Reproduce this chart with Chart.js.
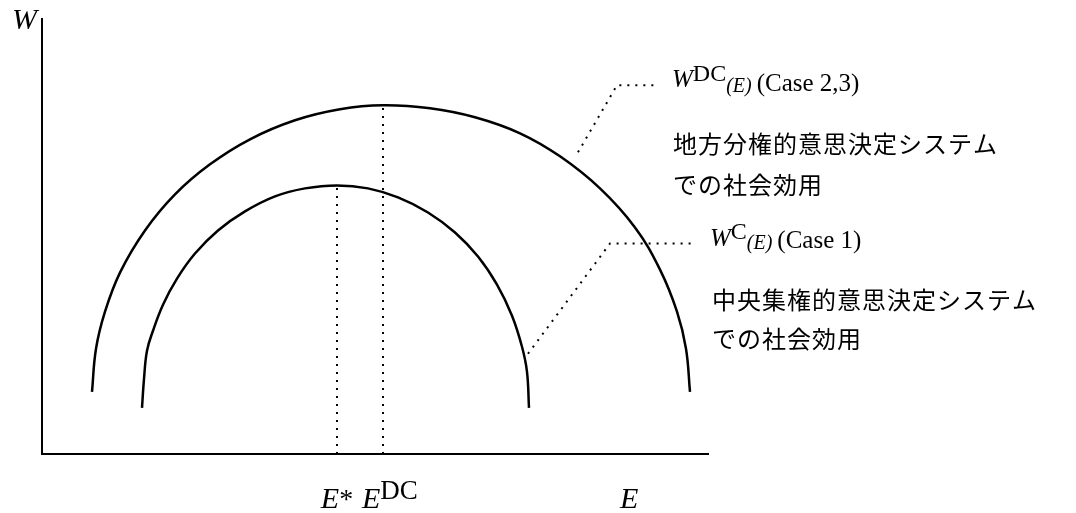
<!DOCTYPE html>
<html>
<head>
<meta charset="utf-8">
<script src="https://cdn.jsdelivr.net/npm/chart.js@4"></script>
<style>
  html, body { margin: 0; padding: 0; background: #fff; }
  #wrap { width: 1076px; height: 513px; }
</style>
</head>
<body>
<div id="wrap"><canvas id="grafico"></canvas></div>
<script>
// 社会効用 W(E): 地方分権 (外側) と 中央集権 (内側)
var outerE = [50, 54, 63, 78, 103, 133, 168, 208, 253, 298, 341, 388, 433, 478, 518, 558, 593, 618, 635, 644, 648];
var outerW = [62, 105, 142, 181, 223, 259, 289, 314, 333, 344, 348, 345, 336, 320, 297, 265, 226, 184, 142, 105, 62];
var innerE = [100, 102, 105, 111, 121, 135, 153, 176, 203, 233, 263, 295, 326, 356, 386, 413, 436, 455, 470, 480, 485, 487];
var innerW = [46, 75, 103, 123, 149, 175, 200, 223, 242, 257, 265, 268, 265, 256, 241, 221, 197, 169, 138, 107, 82, 46];

// 最適点 E*, E^DC
var optE = [295, 341];
var optW = [268, 348];

// 引き出し線
var leaderDcE = [536, 575, 615];
var leaderDcW = [301, 368, 368];
var leaderCE = [486, 568, 650];
var leaderCW = [100, 210, 210];

var eMax = 666, wMax = 434;

function pts(xs, ys) {
    return xs.map(function (x, i) { return { x: x, y: ys[i] }; });
}

var serif = "'Liberation Serif', 'Times New Roman', serif";
var cjk = "'Noto Sans CJK JP', sans-serif";

// 文字列を横に並べて描く (上付き・下付きは dy でずらす)
function drawRuns(ctx, x, y, runs) {
    runs.forEach(function (r) {
        ctx.font = r.font;
        x += r.gap || 0;
        ctx.fillText(r.t, x, y + (r.dy || 0));
        x += ctx.measureText(r.t).width;
    });
}

var labelPlugin = {
    id: 'labels',
    afterDraw: function (chart) {
        var ctx = chart.ctx, xs = chart.scales.x, ys = chart.scales.y, area = chart.chartArea;
        ctx.save();
        ctx.fillStyle = '#000';
        ctx.textBaseline = 'alphabetic';

        // 軸ラベル
        ctx.font = 'italic 30px ' + serif;
        ctx.fillText('W', area.left - 30, area.top + 10);
        ctx.fillText('E', xs.getPixelForValue(578), area.bottom + 54);

        // E*, E^DC
        var p1 = xs.getPixelForValue(optE[0]);
        var p2 = xs.getPixelForValue(optE[1]);
        var base = area.bottom + 54;
        ctx.font = 'italic 30px ' + serif;
        var w1 = ctx.measureText('E').width;
        ctx.font = '28px ' + serif;
        var w2 = ctx.measureText('*').width;
        drawRuns(ctx, p1 - (w1 + w2) / 2, base, [
            { t: 'E', font: 'italic 30px ' + serif },
            { t: '*', font: '28px ' + serif }
        ]);
        drawRuns(ctx, p2 - 21, base, [
            { t: 'E', font: 'italic 30px ' + serif },
            { t: 'DC', font: '27px ' + serif, dy: -9 }
        ]);

        // W^DC(E) の注記
        var ax = xs.getPixelForValue(leaderDcE[2]) + 15;
        var ay = ys.getPixelForValue(leaderDcW[2]);
        drawRuns(ctx, ax, ay + 2, [
            { t: 'W', font: 'italic 25px ' + serif },
            { t: 'DC', font: '24px ' + serif, dy: -6 },
            { t: '(E)', font: 'italic 20px ' + serif, dy: 5 },
            { t: '(Case 2,3)', font: '25px ' + serif, dy: 4, gap: 5 }
        ]);
        ctx.textBaseline = 'middle';
        ctx.font = '24px ' + cjk;
        ctx.letterSpacing = '1px';
        ctx.fillText('地方分権的意思決定システム', ax + 1, ay + 59);
        ctx.fillText('での社会効用', ax + 1, ay + 100);
        ctx.letterSpacing = '0px';

        // W^C(E) の注記
        ctx.textBaseline = 'alphabetic';
        var bx = xs.getPixelForValue(leaderCE[2]) + 18;
        var by = ys.getPixelForValue(leaderCW[2]);
        drawRuns(ctx, bx, by + 2, [
            { t: 'W', font: 'italic 25px ' + serif },
            { t: 'C', font: '24px ' + serif, dy: -7 },
            { t: '(E)', font: 'italic 20px ' + serif, dy: 3 },
            { t: '(Case 1)', font: '25px ' + serif, dy: 2, gap: 5 }
        ]);
        ctx.textBaseline = 'middle';
        ctx.font = '24px ' + cjk;
        ctx.letterSpacing = '1px';
        ctx.fillText('中央集権的意思決定システム', bx + 2, by + 56);
        ctx.fillText('での社会効用', bx + 2, by + 95);
        ctx.restore();
    }
};

var curve = { borderColor: '#000', borderWidth: 2.5, pointRadius: 0, showLine: true, tension: 0.4, fill: false };
var dotted = { borderColor: '#000', borderWidth: 2, borderDash: [2, 6], pointRadius: 0, showLine: true, tension: 0, fill: false };

var ctx = document.getElementById('grafico').getContext('2d');
var chart = new Chart(ctx, {
    type: 'scatter',
    data: {
        datasets: [
            Object.assign({ label: 'W^DC(E)', data: pts(outerE, outerW) }, curve),
            Object.assign({ label: 'W^C(E)', data: pts(innerE, innerW) }, curve),
            Object.assign({ label: 'E*', data: [{ x: optE[0], y: 0 }, { x: optE[0], y: optW[0] }] }, dotted),
            Object.assign({ label: 'E^DC', data: [{ x: optE[1], y: 0 }, { x: optE[1], y: optW[1] }] }, dotted),
            Object.assign({ label: 'leaderDC', data: pts(leaderDcE, leaderDcW) }, dotted),
            Object.assign({ label: 'leaderC', data: pts(leaderCE, leaderCW) }, dotted)
        ]
    },
    options: {
        responsive: true,
        maintainAspectRatio: false,
        animation: false,
        layout: { padding: { left: 34, top: 19, right: 368, bottom: 51 } },
        plugins: { legend: { display: false }, tooltip: { enabled: false } },
        scales: {
            x: {
                type: 'linear', min: 0, max: eMax,
                grid: { display: false },
                ticks: { display: false },
                border: { display: true, color: '#000', width: 2 }
            },
            y: {
                type: 'linear', min: 0, max: wMax,
                grid: { display: false },
                ticks: { display: false },
                border: { display: true, color: '#000', width: 2 }
            }
        }
    },
    plugins: [labelPlugin]
});
</script>
</body>
</html>
